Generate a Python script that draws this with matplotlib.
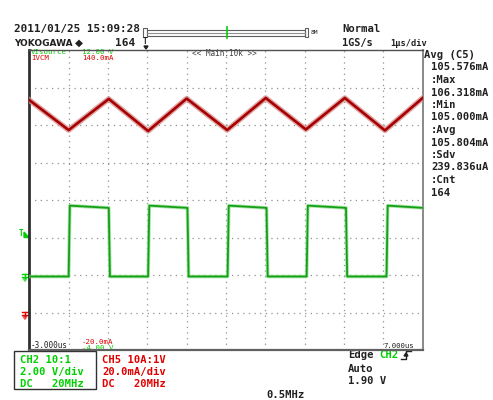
import numpy as np
from matplotlib import pyplot as plt
from matplotlib.patches import Rectangle, Polygon

# time axis, us (1 us/div, 10 div)
t_start, t_end = -3.0, 7.0

# CH2 (green) square wave: edge times (us), alternating rise / fall
sq_edges_us = [-2.00, -0.98, 0.02, 1.02, 2.04, 3.03, 4.05, 5.05, 6.08]
sq_low_v = -0.08
sq_high_start_v = 3.70
sq_high_end_v = 3.58
ch2_v_per_div = 2.0
ch2_offset_div = -2.0

# CH5 (red) triangle current: vertex times (us) and values (mA)
tri_t_us = [-3.0, -2.0, -0.98, 0.02, 1.0, 2.03, 3.01, 4.03, 5.02, 6.04, 7.0]
tri_ma = [113.3, 97.3, 113.9, 96.8, 114.1, 97.3, 114.4, 97.6, 114.4, 97.1, 114.4]
ch5_ma_per_div = 20.0
ch5_offset_div = -3.0

meas_labels = ["Avg (C5)", "105.576mA", ":Max", "106.318mA", ":Min", "105.000mA",
               ":Avg", "105.804mA", ":Sdv", "239.836uA", ":Cnt", "164"]

W, H = 493, 400
GREEN_TR = "#14a014"
RED_TR = "#a80000"
GREEN_TX = "#00d000"
RED_TX = "#e00000"
MONO = "DejaVu Sans Mono"

fig = plt.figure(figsize=(W / 100, H / 100), dpi=100)
fig.patch.set_facecolor("white")

# pixel overlay for the screen furniture
ov = fig.add_axes([0, 0, 1, 1])
ov.set_xlim(0, W)
ov.set_ylim(H, 0)
ov.axis("off")


def txt(x, y, s, color="#202020", size=7.6, weight="bold", family=MONO, **kw):
    ov.text(x, y, s, color=color, fontsize=size, fontweight=weight,
            family=family, va="center", ha=kw.pop("ha", "left"), **kw)


# header
txt(14, 29, "2011/01/25 15:09:28", size=7.9)
txt(14, 43, "YOKOGAWA", size=6.5, family="DejaVu Sans")
txt(75, 43, "\u25c6", size=7.5, family="DejaVu Sans")
txt(115, 43, "164", size=8.0)
txt(143, 41, "T", size=5.5)
ov.add_patch(Polygon([[144, 46], [148, 46], [146, 49]], color="#202020"))
ov.add_patch(Rectangle((143, 28), 4, 9, fill=False, ec="#606060", lw=0.8))
ov.add_patch(Rectangle((147, 29.5), 158, 6, fill=False, ec="#606060", lw=0.8))
ov.plot([147, 305], [32.5, 32.5], color="#909090", lw=0.8)
ov.add_patch(Rectangle((305, 28), 3, 9, fill=False, ec="#606060", lw=0.8))
ov.plot([227, 227], [27, 38], color="#00d000", lw=1.2)
txt(311, 32, "8M", size=4.5, weight="normal")
txt(342, 29, "Normal", size=7.6)
txt(342, 43, "1GS/s", size=7.4)
txt(390, 43, "1\u00b5s/div", size=6.2)

# measurement panel
for i, s in enumerate(meas_labels):
    txt(424 if i == 0 else 431, 55 + i * 12.5, s, size=7.6)

# channel boxes
ov.add_patch(Rectangle((14, 351), 82, 38, fill=False, ec="#303030", lw=1.0))
for i, s in enumerate(["CH2 10:1", "2.00 V/div", "DC   20MHz"]):
    txt(20, 360 + i * 12, s, color=GREEN_TX, size=7.6)
for i, s in enumerate(["CH5 10A:1V", "20.0mA/div", "DC   20MHz"]):
    txt(102, 360 + i * 12, s, color=RED_TX, size=7.6)
txt(348, 355, "Edge", size=7.6)
txt(379, 355, "CH2", color=GREEN_TX, size=7.6)
ov.plot([401, 406, 406, 411], [359, 359, 351, 351], color="#202020", lw=1)
ov.add_patch(Polygon([[404, 356], [408, 356], [406, 353]], color="#202020"))
txt(348, 369, "Auto", size=7.6)
txt(348, 381, "1.90 V", size=7.6)
txt(266, 395, "0.5MHz", size=7.6)

# in-screen small labels
txt(31, 52, "VIsource", color=GREEN_TX, size=5.3, weight="normal")
txt(82, 52, "12.00 V", color=GREEN_TX, size=5.3, weight="normal")
txt(31, 58.5, "IVCM", color=RED_TX, size=5.3, weight="normal")
txt(82, 58.5, "140.0mA", color=RED_TX, size=5.3, weight="normal")
txt(192, 53, "<< Main:10k >>", color="#404040", size=5.5, weight="normal")
txt(31, 346, "-3.000us", size=5.5, weight="normal")
txt(82, 341.5, "-20.0mA", color=RED_TX, size=5.3, weight="normal")
txt(82, 348, "-4.00 V", color=GREEN_TX, size=5.3, weight="normal")
txt(383, 346, "7.000us", size=5.2, weight="normal")

# left-edge markers: trigger level, ground levels
txt(19, 234, "T", color=GREEN_TX, size=5.5)
ov.add_patch(Polygon([[24, 237.5], [29, 237.5], [24, 232]], color=GREEN_TX))
for gy, col in [(275.5, GREEN_TX), (313.5, RED_TX)]:
    ov.plot([21.5, 28.5], [gy - 2, gy - 2], color=col, lw=1)
    ov.plot([25, 25], [gy - 2, gy + 2], color=col, lw=1)
    ov.plot([21.5, 29], [gy + 1.5, gy + 1.5], color=col, lw=1)
    ov.add_patch(Polygon([[23, gy + 3], [27, gy + 3], [25, gy + 6]], color=col, alpha=0.5))

# waveform screen
ax = fig.add_axes([29.3 / W, 1 - 350 / H, 393.4 / W, 300 / H])
ax.set_xlim(t_start, t_end)
ax.set_ylim(-4, 4)
ax.set_xticks([])
ax.set_yticks([])
ax.patch.set_alpha(0)
for x in range(-2, 7):
    ax.axvline(x, color="#909090", lw=0.9, ls=(0, (1, 3.5)), zorder=1)
for y in range(-3, 4):
    ax.axhline(y, color="#909090", lw=0.9, ls=(0, (1, 3.5)), zorder=1)
ax.spines["left"].set(color="#303030", lw=2)
ax.spines["top"].set(color="#505050", lw=1)
ax.spines["right"].set(color="#808080", lw=1.3)
ax.spines["bottom"].set(color="#606060", lw=1.6)

# build square wave polyline from edges
gt, gv = [t_start], [sq_low_v]
for i, e in enumerate(sq_edges_us):
    nxt = sq_edges_us[i + 1] if i + 1 < len(sq_edges_us) else t_end
    gt += [e, e + 0.03, nxt]
    if i % 2 == 0:
        gv += [sq_low_v, sq_high_start_v, sq_high_end_v]
    else:
        gv += [sq_high_end_v, sq_low_v, sq_low_v]
gdiv = np.array(gv) / ch2_v_per_div + ch2_offset_div
ax.plot(gt, gdiv, color="#8ada8a", lw=2.6, alpha=0.7, zorder=3)
ax.plot(gt, gdiv, color=GREEN_TR, lw=1.3, zorder=4)

rdiv = np.array(tri_ma) / ch5_ma_per_div + ch5_offset_div
ax.plot(tri_t_us, rdiv, color="#d89090", lw=4.0, alpha=0.8, zorder=3)
ax.plot(tri_t_us, rdiv, color=RED_TR, lw=1.9, zorder=4)

fig.savefig("out.png", dpi=100)
